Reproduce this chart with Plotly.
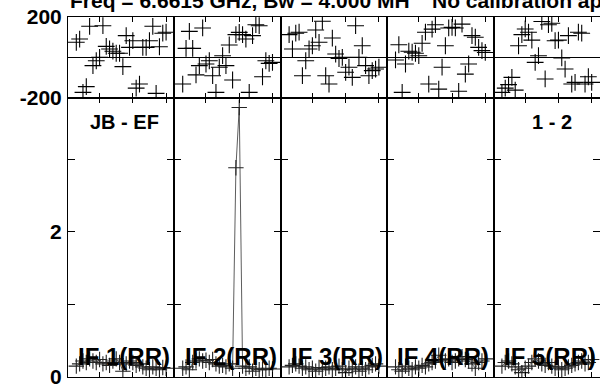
import plotly.graph_objects as go
from plotly.subplots import make_subplots

# Channels with data (edge channels flagged)
channels = list(range(3, 31))

phase_if1 = [75, 91, -172, -144, 154, -40, -16, 1, 157, 55, 42, 31, 21, 21, -45, 108, 50, 83,
             -151, -131, 50, 50, 83, 154, -177, 53, 120, 125]
phase_if2 = [-131, 45, 129, 45, -86, -40, 146, -32, -16, -90, -172, -48, 9, -40, 62, -111, 113, 124,
             113, 91, -172, 108, 162, 157, -95, -16, -29, -24]
phase_if3 = [113, 42, 120, 125, -90, -16, 42, 58, 136, 75, 179, -90, -131, 96, 17, -5, 1, -73,
             -48, -98, 157, 1, 58, -40, -90, -65, -57, -48]
phase_if4 = [-12, 63, -172, -32, 31, 26, 21, 9, 70, 125, -131, 140, 162, -156, -48, 58, 146, 149,
             146, -167, 165, -82, -32, 108, 100, 50, 34, 25]
phase_if5 = [-172, -151, -134, -98, -161, 58, 113, 141, 125, 86, -24, 9, 178, -106, 162, 169, 83, 86,
             -2, -57, 108, -131, -123, 125, 120, -131, -95, -123]

amp_if1 = [0.15, 0.18, 0.22, 0.20, 0.25, 0.22, 0.20, 0.24, 0.18, 0.20, 0.16, 0.22, 0.25, 0.20, 0.08,
           0.18, 0.22, 0.20, 0.16, 0.18, 0.14, 0.12, 0.10, 0.14, 0.12, 0.10, 0.13, 0.12]
amp_if2 = [0.12, 0.14, 0.10, 0.20, 0.22, 0.25, 0.22, 0.23, 0.20, 0.24, 0.18, 0.15, 0.16, 0.14, 0.18,
           0.12, 2.88, 3.71, 0.15, 0.12, 0.14, 0.08, 0.12, 0.10, 0.11, 0.10, 0.12, 0.11]
amp_if3 = [0.14, 0.16, 0.18, 0.15, 0.12, 0.14, 0.10, 0.12, 0.08, 0.13, 0.10, 0.12, 0.14, 0.10, 0.12,
           0.15, 0.10, 0.06, 0.12, 0.10, 0.14, 0.08, 0.12, 0.10, 0.14, 0.16, 0.18, 0.15]
amp_if4 = [0.14, 0.10, 0.08, 0.15, 0.12, 0.10, 0.14, 0.12, 0.16, 0.14, 0.18, 0.20, 0.22, 0.30, 0.24,
           0.22, 0.25, 0.20, 0.22, 0.25, 0.28, 0.24, 0.22, 0.18, 0.12, 0.20, 0.22, 0.25]
amp_if5 = [0.15, 0.20, 0.22, 0.18, 0.14, 0.10, 0.06, 0.12, 0.15, 0.20, 0.25, 0.22, 0.18, 0.16, 0.20,
           0.15, 0.12, 0.14, 0.10, 0.12, 0.14, 0.16, 0.18, 0.20, 0.22, 0.18, 0.20, 0.24]

if_labels = ["IF 1(RR)", "IF 2(RR)", "IF 3(RR)", "IF 4(RR)", "IF 5(RR)"]
phase_ticks = [-200, 200]
amp_ticks = [0, 1, 2, 3]
amp_ticktext = ["0", "", "2", ""]
chan_ticks = [10, 20, 30]

phases = [phase_if1, phase_if2, phase_if3, phase_if4, phase_if5]
amps = [amp_if1, amp_if2, amp_if3, amp_if4, amp_if5]

FONT = "Liberation Sans, Arial, Helvetica, sans-serif"

fig = make_subplots(rows=2, cols=5, row_heights=[81, 279],
                    horizontal_spacing=0, vertical_spacing=0)

for i in range(5):
    fig.add_trace(go.Scatter(x=channels, y=phases[i], mode="markers",
                             marker=dict(symbol="cross-thin", size=12,
                                         line=dict(color="black", width=1.1)),
                             showlegend=False), row=1, col=i + 1)
    fig.add_trace(go.Scatter(x=channels, y=amps[i], mode="lines+markers",
                             line=dict(color="#333", width=0.8),
                             marker=dict(symbol="cross-thin", size=11,
                                         line=dict(color="#222", width=1.1)),
                             showlegend=False), row=2, col=i + 1)

axis_common = dict(showline=True, linecolor="black", linewidth=1, mirror="allticks",
                   showgrid=False, ticks="inside", tickcolor="black", tickwidth=1,
                   automargin=False)

for i in range(5):
    for r in (1, 2):
        fig.update_xaxes(range=[0.5, 32.5], tickvals=chan_ticks, showticklabels=False,
                         ticklen=5, zeroline=False, row=r, col=i + 1, **axis_common)
    fig.update_yaxes(range=[-200, 200], tickvals=phase_ticks,
                     ticktext=[str(v) for v in phase_ticks], ticklen=0,
                     showticklabels=(i == 0), zeroline=True, zerolinecolor="black",
                     zerolinewidth=1, row=1, col=i + 1, **axis_common)
    fig.update_yaxes(range=[0, 3.84], tickvals=amp_ticks, ticktext=amp_ticktext,
                     ticklen=7, showticklabels=(i == 0), zeroline=False,
                     row=2, col=i + 1, **axis_common)

fig.update_yaxes(tickfont=dict(family=FONT, size=21, color="black", weight="bold"),
                 ticklabelstandoff=1, ticklabeloverflow="allow")

ann_font = dict(family=FONT, color="black", weight="bold")
annotations = [
    dict(text="Freq = 6.6615 GHz, Bw = 4.000 MH", x=0.0, y=1.046, xanchor="left",
         yanchor="middle", font=dict(size=21, **ann_font)),
    dict(text="No calibration applied", x=0.680, y=1.046, xanchor="left",
         yanchor="middle", font=dict(size=21, **ann_font)),
    dict(text="JB - EF", x=0.0376, y=0.708, xanchor="left", yanchor="middle",
         font=dict(size=20, **ann_font)),
    dict(text="1 - 2", x=0.868, y=0.708, xanchor="left", yanchor="middle",
         font=dict(size=20, **ann_font)),
]
for i, lab in enumerate(if_labels):
    annotations.append(dict(text=lab, x=(i + 1) * 0.2 - 0.004, y=0.056, xanchor="right",
                            yanchor="middle", font=dict(size=24, **ann_font)))
for a in annotations:
    a.update(xref="paper", yref="paper", showarrow=False)

fig.update_layout(width=600, height=385, margin=dict(l=68, r=0, t=17, b=8),
                  paper_bgcolor="white", plot_bgcolor="white",
                  annotations=annotations)

fig.write_html("out.html", config={"displayModeBar": False},
               post_script="document.body.style.margin='0';document.body.style.overflow='hidden';")
